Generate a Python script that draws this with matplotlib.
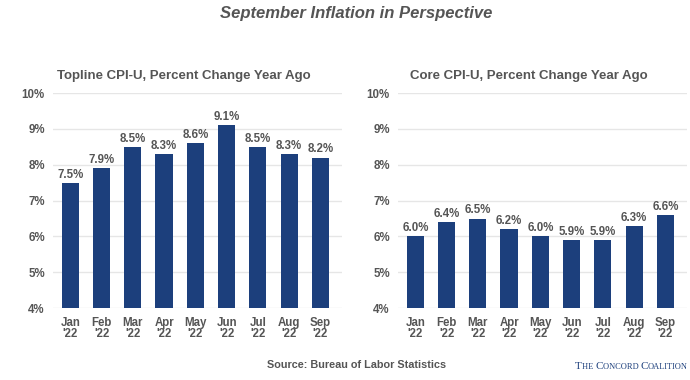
import matplotlib.pyplot as plt

plt.rcParams['font.family'] = ['Liberation Sans', 'DejaVu Sans']

# Data
months = ["Jan\n'22", "Feb\n'22", "Mar\n'22", "Apr\n'22", "May\n'22",
          "Jun\n'22", "Jul\n'22", "Aug\n'22", "Sep\n'22"]
topline = [7.5, 7.9, 8.5, 8.3, 8.6, 9.1, 8.5, 8.3, 8.2]
core = [6.0, 6.4, 6.5, 6.2, 6.0, 5.9, 5.9, 6.3, 6.6]
yticks = [4, 5, 6, 7, 8, 9, 10]

bar_color = '#1c3f7c'
text_grey = '#555555'

fig = plt.figure(figsize=(6.9, 3.8), dpi=100)
ax1 = fig.add_axes([0.077, 0.189, 0.419, 0.566])
ax2 = fig.add_axes([0.577, 0.189, 0.419, 0.566])


def draw_panel(ax, values, title):
    x = range(len(values))
    ax.bar(x, values, width=0.55, color=bar_color, zorder=3)
    for i, v in zip(x, values):
        ax.text(i, v + 0.06, f"{v:.1f}%", ha='center', va='bottom',
                fontsize=8.3, fontweight='bold', color=text_grey)
    ax.set_ylim(4, 10)
    ax.set_xlim(-0.55, 8.7)
    ax.set_yticks(yticks)
    ax.set_yticklabels([f"{t}%" for t in yticks])
    ax.set_xticks(list(x))
    ax.set_xticklabels(months, linespacing=0.95)
    ax.tick_params(axis='both', length=0, labelsize=8.3, colors=text_grey, pad=6)
    for lab in ax.get_xticklabels() + ax.get_yticklabels():
        lab.set_fontweight('bold')
    ax.grid(axis='y', color='#e6e6e6', linewidth=1, zorder=0)
    for s in ax.spines.values():
        s.set_visible(False)
    ax.set_title(title, fontsize=9.5, fontweight='bold', color=text_grey, pad=10, x=0.452)


draw_panel(ax1, topline, "Topline CPI-U, Percent Change Year Ago")
draw_panel(ax2, core, "Core CPI-U, Percent Change Year Ago")

fig.text(0.516, 0.965, "September Inflation in Perspective", ha='center', va='center',
         fontsize=12, fontweight='bold', style='italic', color=text_grey)
fig.text(0.517, 0.04, "Source: Bureau of Labor Statistics", ha='center', va='center',
         fontsize=7.8, fontweight='bold', color=text_grey)

# small-caps style logo text, laid out right-aligned
serif = ['Liberation Serif', 'DejaVu Serif']
parts = [("T", 8), ("HE ", 6), ("C", 8), ("ONCORD ", 6), ("C", 8), ("OALITION", 6)]
fig.canvas.draw()
renderer = fig.canvas.get_renderer()
pieces = []
for part, size in parts:
    t = fig.text(0, 0.03, part, ha='left', va='baseline', fontsize=size,
                 family=serif, color=bar_color)
    pieces.append(t)
widths = [t.get_window_extent(renderer=renderer).width / fig.bbox.width for t in pieces]
x = 0.997 - sum(widths)
for t, w in zip(pieces, widths):
    t.set_x(x)
    x += w

plt.savefig('out.png', dpi=100)
